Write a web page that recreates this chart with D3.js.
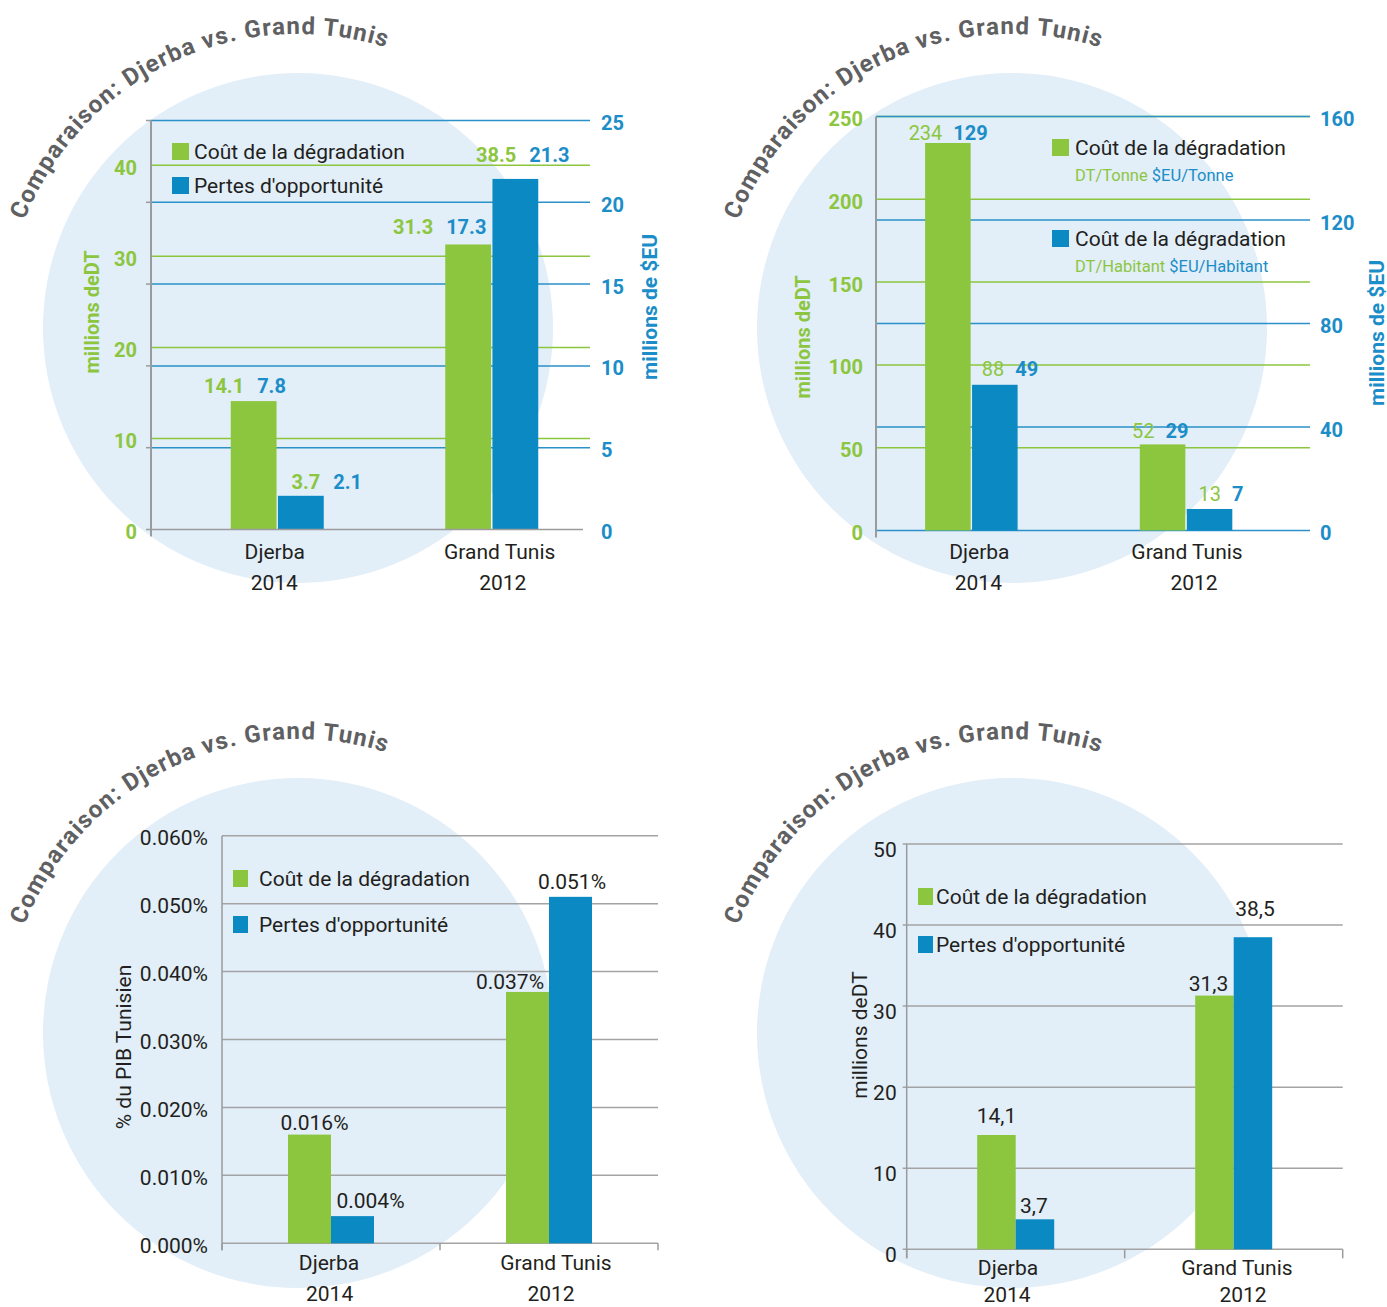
<!DOCTYPE html>
<html>
<head>
<meta charset="utf-8">
<script src="https://cdn.jsdelivr.net/npm/d3@7"></script>
<style>
  body { margin: 0; background: #ffffff; }
  svg text { font-family: Roboto, "Open Sans", "DejaVu Sans", sans-serif; }
</style>
</head>
<body>
<svg id="chart" width="1387" height="1307"></svg>
<script>
// ---- Data -----------------------------------------------------------------
const categories = ["Djerba", "Grand Tunis"];
const years = ["2014", "2012"];
const titleText = "Comparaison: Djerba vs. Grand Tunis";
const legendCost = "Coût de la dégradation";
const legendLoss = "Pertes d'opportunité";

// Total cost, millions DT and millions $EU
const totalCostDT = [14.1, 31.3];
const totalCostUSD = [7.8, 17.3];
const totalLossDT = [3.7, 38.5];
const totalLossUSD = [2.1, 21.3];
const totalTicksDT = [0, 10, 20, 30, 40];
const totalTicksUSD = [0, 5, 10, 15, 20, 25];

// Unit cost: per tonne and per inhabitant
const perTonneDT = [234, 52];
const perTonneUSD = [129, 29];
const perHabDT = [88, 13];
const perHabUSD = [49, 7];
const unitTicksDT = [0, 50, 100, 150, 200, 250];
const unitTicksUSD = [0, 40, 80, 120, 160];
const unitSubCost = ["DT/Tonne", "$EU/Tonne"];
const unitSubHab = ["DT/Habitant", "$EU/Habitant"];

// Share of Tunisian GDP (%)
const gdpCost = [0.016, 0.037];
const gdpLoss = [0.004, 0.051];
const gdpTicks = [0, 0.01, 0.02, 0.03, 0.04, 0.05, 0.06];

// Millions DT, single axis
const dtTicks = [0, 10, 20, 30, 40, 50];

// ---- Style ----------------------------------------------------------------
const C = {
  green: "#8cc63f",
  blue: "#0a89c3",
  blueText: "#1b8dc8",
  gridBlue: "#2a91c9",
  gridGray: "#a3a3a3",
  axis: "#9b9b9b",
  disc: "#e2eef8",
  title: "#5f6062",
  ink: "#231f20"
};

const fmt1 = d3.format(".1f");
const fmtInt = d3.format("d");
const fmtPct = d => d3.format(".3f")(d) + "%";
const frLocale = d3.formatLocale({ decimal: ",", thousands: "\u00a0", grouping: [3], currency: ["", ""] });
const fmtFr = frLocale.format(".1f");

const svg = d3.select("#chart");
const defs = svg.append("defs");

// ---- Shared pieces --------------------------------------------------------
function disc(cx, cy) {
  svg.append("circle").attr("cx", cx).attr("cy", cy).attr("r", 255).attr("fill", C.disc);
}

// Curved heading that follows the disc's upper-left rim
function arcTitle(cx, cy, id) {
  const r = 294;
  const a0 = -158.5 * Math.PI / 180;
  const a1 = -72.5 * Math.PI / 180;
  const p = d3.path();
  p.arc(cx, cy, r, a0, a1, false);
  defs.append("path").attr("id", id).attr("d", p.toString());
  const t = svg.append("text")
    .attr("font-size", 24)
    .attr("font-weight", 700)
    .attr("fill", C.title);
  t.append("textPath").attr("href", "#" + id).text(titleText);
  const natural = t.node().getComputedTextLength();
  const arcLen = r * (a1 - a0);
  t.attr("letter-spacing", (arcLen - natural) / titleText.length);
}

function rotatedLabel(g, x, y, text, o) {
  g.append("text")
    .attr("transform", `translate(${x},${y}) rotate(-90)`)
    .attr("text-anchor", "middle")
    .attr("dy", "0.35em")
    .attr("font-size", o.size)
    .attr("font-weight", o.weight)
    .attr("fill", o.fill)
    .text(text);
}

function categoryLabels(g, x0, o) {
  categories.forEach((c, i) => {
    const cx = x0(c) + x0.bandwidth() / 2;
    g.append("text").attr("x", cx + o.catDx[i]).attr("y", o.catY)
      .attr("text-anchor", "middle").attr("font-size", 21).attr("fill", C.ink).text(c);
    g.append("text").attr("x", cx + o.yearDx[i]).attr("y", o.yearY)
      .attr("text-anchor", "middle").attr("font-size", 21).attr("fill", C.ink).text(years[i]);
  });
}

function styleAxisText(sel, o) {
  sel.select(".domain").remove();
  sel.selectAll(".tick line").remove();
  sel.selectAll("text")
    .attr("font-family", null)
    .attr("dy", o.dy)
    .attr("font-size", o.size)
    .attr("font-weight", o.weight)
    .attr("fill", o.fill);
  sel.attr("font-family", null).attr("font-size", null);
}

// ---- Dual-axis panel (DT left, $EU right) ---------------------------------
function dualPanel(o) {
  const g = svg.append("g");
  const yL = d3.scaleLinear().domain([0, o.maxL]).range([o.y0, o.y1]);
  const yR = d3.scaleLinear().domain([0, o.maxR]).range([o.y0, o.y1]);
  const x0 = d3.scaleBand().domain(categories).range(o.xRange);
  const bw = x0.bandwidth();
  const x1 = d3.scaleBand().domain([0, 1])
    .range([bw / 2 - o.groupW / 2, bw / 2 + o.groupW / 2]).paddingInner(o.barGap);

  // gridlines
  g.selectAll("line.gl").data(o.ticksL.filter(d => d > 0)).join("line").attr("class", "gl")
    .attr("x1", o.axisX).attr("x2", o.gridEnd).attr("y1", d => yL(d)).attr("y2", d => yL(d))
    .attr("stroke", C.green).attr("stroke-width", 1.5);
  g.selectAll("line.gr").data(o.ticksR.filter(d => o.blueBase ? true : d > 0)).join("line").attr("class", "gr")
    .attr("x1", o.axisX).attr("x2", o.gridEnd).attr("y1", d => yR(d)).attr("y2", d => yR(d))
    .attr("stroke", C.gridBlue).attr("stroke-width", 1.5);
  if (o.leftTicks) {
    g.selectAll("line.lt").data(o.ticksR).join("line").attr("class", "lt")
      .attr("x1", o.axisX - 5).attr("x2", o.axisX).attr("y1", d => yR(d)).attr("y2", d => yR(d))
      .attr("stroke", C.axis).attr("stroke-width", 1.5);
  }

  // bars
  o.series.forEach((s, si) => {
    g.selectAll("rect.s" + si).data(categories).join("rect").attr("class", "s" + si)
      .attr("x", c => x0(c) + x1(si))
      .attr("width", x1.bandwidth())
      .attr("y", (c, i) => yL(s.dt[i]))
      .attr("height", (c, i) => o.y0 - yL(s.dt[i]))
      .attr("fill", s.color);
  });

  // axis frame
  if (!o.blueBase) {
    g.append("line").attr("x1", o.axisX).attr("x2", o.baseEnd).attr("y1", o.y0).attr("y2", o.y0)
      .attr("stroke", C.axis).attr("stroke-width", 1.5);
  }
  g.append("line").attr("x1", o.axisX).attr("x2", o.axisX).attr("y1", o.y1).attr("y2", o.y0 + 7)
    .attr("stroke", C.axis).attr("stroke-width", 2);

  // tick labels
  const axL = g.append("g").attr("transform", `translate(${o.axisX},0)`)
    .call(d3.axisLeft(yL).tickValues(o.ticksL).tickFormat(fmtInt).tickSize(0).tickPadding(o.padL));
  styleAxisText(axL, { size: 20, weight: 700, fill: C.green, dy: "0.45em" });
  const axR = g.append("g").attr("transform", `translate(${o.gridEnd},0)`)
    .call(d3.axisRight(yR).tickValues(o.ticksR).tickFormat(fmtInt).tickSize(0).tickPadding(o.padR));
  styleAxisText(axR, { size: 20, weight: 700, fill: C.blueText, dy: "0.45em" });

  // value labels: DT (green) then $EU (blue)
  o.series.forEach((s, si) => {
    categories.forEach((c, i) => {
      const center = x0(c) + x1(si) + x1.bandwidth() / 2;
      const split = center + o.labelDx[si][i];
      const y = yL(s.dt[i]) - o.labelLift[si][i];
      g.append("text").attr("x", split - o.labelGap / 2).attr("y", y)
        .attr("text-anchor", "end").attr("font-size", 20).attr("font-weight", o.greenWeight)
        .attr("fill", C.green).text(o.fmt(s.dt[i]));
      g.append("text").attr("x", split + o.labelGap / 2).attr("y", y)
        .attr("text-anchor", "start").attr("font-size", 20).attr("font-weight", 700)
        .attr("fill", C.blueText).text(o.fmt(s.usd[i]));
    });
  });

  rotatedLabel(g, o.titleL[0], o.titleL[1], "millions deDT", { size: 20, weight: 700, fill: C.green });
  rotatedLabel(g, o.titleR[0], o.titleR[1], "millions de $EU", { size: 21, weight: 700, fill: C.blueText });

  categoryLabels(g, x0, o);
  o.legend(g);
}

// ---- Single-axis panel -----------------------------------------------------
function simplePanel(o) {
  const g = svg.append("g");
  const y = d3.scaleLinear().domain([0, o.max]).range([o.y0, o.y1]);
  const x0 = d3.scaleBand().domain(categories).range([o.axisX, o.gridEnd]);
  const bw = x0.bandwidth();
  const x1 = d3.scaleBand().domain([0, 1]).range([bw / 2 - o.groupW / 2, bw / 2 + o.groupW / 2]);

  g.selectAll("line.grid").data(o.ticks).join("line").attr("class", "grid")
    .attr("x1", o.axisX - o.leftTick).attr("x2", o.gridEnd).attr("y1", d => y(d)).attr("y2", d => y(d))
    .attr("stroke", C.gridGray).attr("stroke-width", 1.5);

  const series = [{ v: o.cost, color: C.green }, { v: o.loss, color: C.blue }];
  series.forEach((s, si) => {
    g.selectAll("rect.s" + si).data(categories).join("rect").attr("class", "s" + si)
      .attr("x", c => x0(c) + x1(si))
      .attr("width", x1.bandwidth())
      .attr("y", (c, i) => y(s.v[i]))
      .attr("height", (c, i) => o.y0 - y(s.v[i]))
      .attr("fill", s.color);
  });

  g.append("line").attr("x1", o.axisX).attr("x2", o.axisX).attr("y1", o.y1).attr("y2", o.y0 + o.bottomTick)
    .attr("stroke", C.axis).attr("stroke-width", 1.5);
  const bounds = [o.axisX, ...categories.map(c => x0(c) + bw)];
  g.selectAll("line.bt").data(bounds).join("line").attr("class", "bt")
    .attr("x1", d => d).attr("x2", d => d).attr("y1", o.y0).attr("y2", o.y0 + o.bottomTick)
    .attr("stroke", C.axis).attr("stroke-width", 1.5);

  const ax = g.append("g").attr("transform", `translate(${o.axisX},0)`)
    .call(d3.axisLeft(y).tickValues(o.ticks).tickFormat(o.tickFmt).tickSize(0).tickPadding(o.pad));
  styleAxisText(ax, { size: 21, weight: 400, fill: C.ink, dy: o.tickDy });

  series.forEach((s, si) => {
    categories.forEach((c, i) => {
      const center = x0(c) + x1(si) + x1.bandwidth() / 2;
      g.append("text").attr("x", center + o.labelDx[si][i]).attr("y", y(s.v[i]) - o.labelLift[si][i])
        .attr("text-anchor", "middle").attr("font-size", 21).attr("fill", C.ink)
        .text(o.valFmt(s.v[i]));
    });
  });

  rotatedLabel(g, o.title[0], o.title[1], o.titleText, { size: 21, weight: 400, fill: C.ink });
  categoryLabels(g, x0, o);

  // legend
  [[legendCost, C.green], [legendLoss, C.blue]].forEach(([txt, col], i) => {
    g.append("rect").attr("x", o.legend.x).attr("y", o.legend.ys[i]).attr("width", 15).attr("height", 17).attr("fill", col);
    g.append("text").attr("x", o.legend.tx).attr("y", o.legend.ys[i] + 16)
      .attr("font-size", 21).attr("fill", C.ink).text(txt);
  });
}

// ---- Panel 1: total cost, millions DT / $EU --------------------------------
disc(298, 328);
arcTitle(298, 328, "arc-a");
const dtPerUsd = d3.mean([...totalCostDT, ...totalLossDT].map((d, i) =>
  d / [...totalCostUSD, ...totalLossUSD][i]));
dualPanel({
  axisX: 151, gridEnd: 590, baseEnd: 583, y0: 529.5, y1: 120.5,
  maxL: d3.max(totalTicksUSD) * dtPerUsd, maxR: d3.max(totalTicksUSD),
  ticksL: totalTicksDT, ticksR: totalTicksUSD,
  xRange: [170, 599], groupW: 93, barGap: 0.03,
  padL: 14, padR: 11, leftTicks: true, blueBase: false,
  series: [
    { dt: totalCostDT, usd: totalCostUSD, color: C.green },
    { dt: totalLossDT, usd: totalLossUSD, color: C.blue }
  ],
  fmt: fmt1, greenWeight: 700, labelGap: 13,
  labelDx: [[-3, -28.5], [26, 7.5]],
  labelLift: [[8, 10], [7, 17]],
  titleL: [92, 312], titleR: [650, 307],
  catDx: [-2.5, 8], yearDx: [-3, 11], catY: 559, yearY: 590,
  legend: g => {
    [[legendCost, C.green, 143], [legendLoss, C.blue, 177]].forEach(([txt, col, y]) => {
      g.append("rect").attr("x", 172).attr("y", y).attr("width", 17).attr("height", 17).attr("fill", col);
      g.append("text").attr("x", 194).attr("y", y + 16).attr("font-size", 21).attr("fill", C.ink).text(txt);
    });
  }
});

// ---- Panel 2: cost per tonne / per inhabitant ------------------------------
disc(1012, 328);
arcTitle(1012, 328, "arc-b");
dualPanel({
  axisX: 876, gridEnd: 1310, baseEnd: 1310, y0: 530.5, y1: 116.5,
  maxL: d3.max(unitTicksDT), maxR: d3.max(unitTicksUSD),
  ticksL: unitTicksDT, ticksR: unitTicksUSD,
  xRange: [864, 1293.4], groupW: 92.5, barGap: 0.03,
  padL: 13, padR: 10, leftTicks: false, blueBase: true,
  series: [
    { dt: perTonneDT, usd: perTonneUSD, color: C.green },
    { dt: perHabDT, usd: perHabUSD, color: C.blue }
  ],
  fmt: fmtInt, greenWeight: 400, labelGap: 11,
  labelDx: [[0, -2.5], [15, 17]],
  labelLift: [[3, 6], [9, 8]],
  titleL: [803, 337], titleR: [1377, 333],
  catDx: [8, 1], yearDx: [7, 8], catY: 559, yearY: 590,
  legend: g => {
    [[C.green, 139, unitSubCost], [C.blue, 230, unitSubHab]].forEach(([col, y, sub]) => {
      g.append("rect").attr("x", 1052).attr("y", y).attr("width", 17).attr("height", 17).attr("fill", col);
      g.append("text").attr("x", 1075).attr("y", y + 16).attr("font-size", 21).attr("fill", C.ink).text(legendCost);
      const t = g.append("text").attr("x", 1075).attr("y", y + 42).attr("font-size", 16.5);
      t.append("tspan").attr("fill", C.green).text(sub[0] + " ");
      t.append("tspan").attr("fill", C.blueText).text(sub[1]);
    });
  }
});

// ---- Panel 3: share of GDP --------------------------------------------------
disc(298, 1033);
arcTitle(298, 1033, "arc-c");
simplePanel({
  axisX: 222, gridEnd: 658, y0: 1243.3, y1: 835.7, max: d3.max(gdpTicks),
  ticks: gdpTicks, tickFmt: fmtPct, valFmt: fmtPct, pad: 14, tickDy: "0.42em",
  leftTick: 0, bottomTick: 7, groupW: 86,
  cost: gdpCost, loss: gdpLoss,
  labelDx: [[5, -17.5], [18, 1.5]],
  labelLift: [[5, 3], [8, 8]],
  title: [123.5, 1047], titleText: "% du PIB Tunisien",
  catDx: [-2, 7], yearDx: [-1.4, 2], catY: 1270, yearY: 1301,
  legend: { x: 233, tx: 259, ys: [870, 916] }
});

// ---- Panel 4: millions DT -----------------------------------------------------
disc(1012, 1033);
arcTitle(1012, 1033, "arc-d");
simplePanel({
  axisX: 906.7, gridEnd: 1342.7, y0: 1249.3, y1: 844, max: d3.max(dtTicks),
  ticks: dtTicks, tickFmt: fmtInt, valFmt: fmtFr, pad: 10, tickDy: "0.6em",
  leftTick: 4, bottomTick: 9, groupW: 77,
  cost: totalCostDT, loss: totalLossDT,
  labelDx: [[0, -6], [-1, 2]],
  labelLift: [[12, 5], [6, 21]],
  title: [860, 1035], titleText: "millions deDT",
  catDx: [-7.7, 3.3], yearDx: [-8.7, 9.3], catY: 1275, yearY: 1302,
  legend: { x: 918, tx: 936, ys: [888, 936] }
});
</script>
</body>
</html>
